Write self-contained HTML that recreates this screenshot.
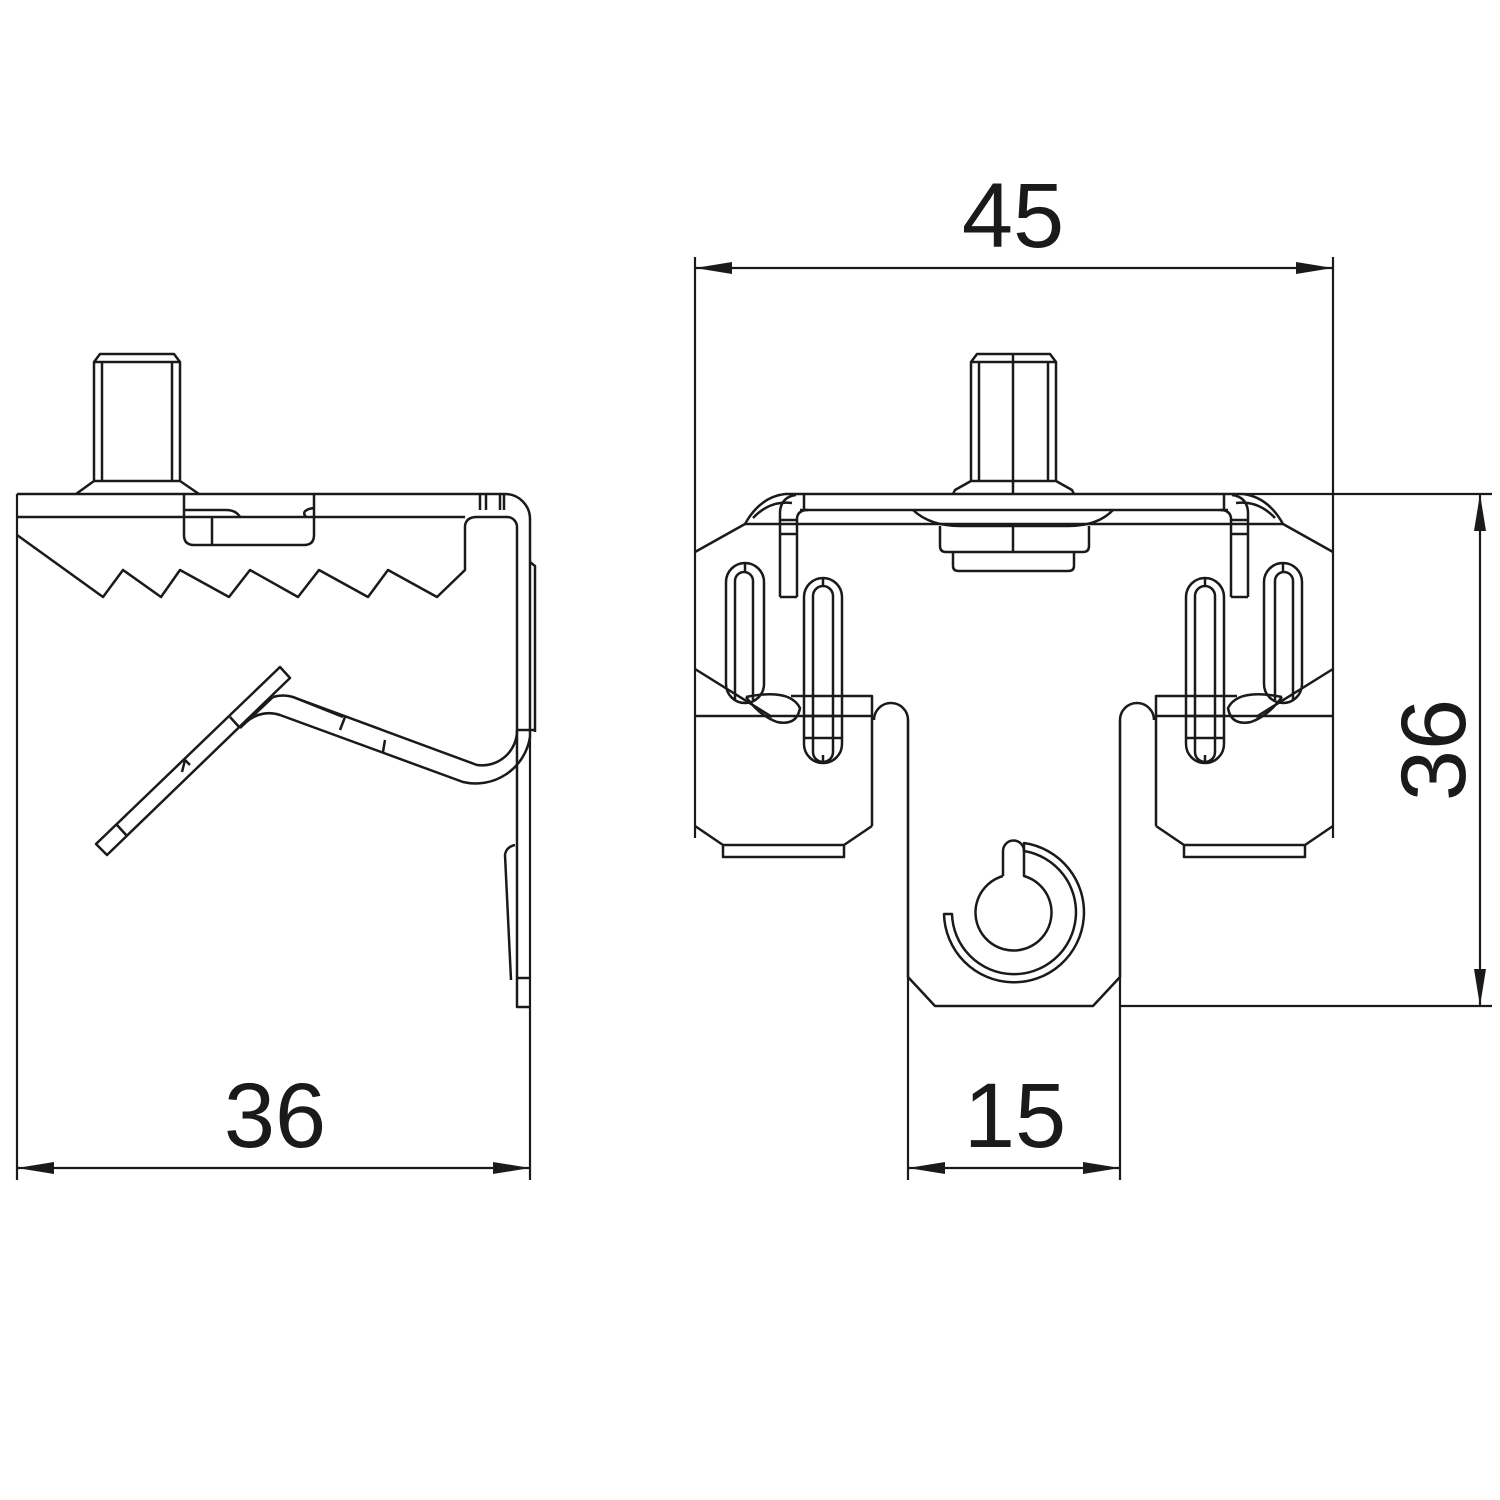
<!DOCTYPE html>
<html><head><meta charset="utf-8"><style>
html,body{margin:0;padding:0;background:#fff}
svg{display:block}
text{font-family:"Liberation Sans",Arial,sans-serif;font-size:92px;fill:#1a1a1a}
</style></head><body>
<svg width="1500" height="1500" viewBox="0 0 1500 1500" xmlns="http://www.w3.org/2000/svg">
<defs>
<g id="half" fill="none" stroke="#1a1a1a" stroke-width="2.5" stroke-linejoin="round">
  <path d="M785,494 L1014,494"/>
  <path d="M800,510 L1014,510"/>
  <path d="M745,524 L1014,524"/>
  <path d="M695,552 L745,524 Q760,497 785,494"/>
  <path d="M753,518 Q770,500 792,503"/>
  <path d="M780,597 L780,512 Q781,497 796,495 M797,597 L797,518 Q798,510 808,510 M780,597 L797,597 M804,494 L804,510 M780,520 L797,520 M780,534 L797,534"/>
  <rect x="726" y="563" width="38" height="140" rx="19"/>
  <path d="M735,700 L735,581 A9,9 0 0 1 753,581 L753,700 M745,563 L745,572"/>
  <rect x="804" y="578" width="38" height="185" rx="19"/>
  <path d="M813,752 L813,596 A10,10 0 0 1 833,596 L833,752 A10,10 0 0 1 813,752 M823,578 L823,586 M823,755 L823,763 M804,716 L842,716 M804,738 L842,738"/>
  <path d="M695,669 L772,717"/>
  <path d="M746,697 Q790,688 800,708 Q797,726 777,722 Q760,716 746,697"/>
  <path d="M695,716 L872,716 M791,696 L872,696 L872,826"/>
  <path d="M695,826 L723,845 L844,845 L872,826 M723,845 L723,857 L844,857 L844,845"/>
  <path d="M874,720 A17,17 0 0 1 908,720 L908,977 L935,1006 L1014,1006"/>
</g>
</defs>
<use href="#half"/>
<use href="#half" transform="translate(2028,0) scale(-1,1)"/>
<g fill="none" stroke="#1a1a1a" stroke-width="2.5" stroke-linejoin="round">
  <!-- right view stud -->
  <path d="M971,481 L971,362 L977,354 L1050,354 L1056,362 L1056,481 M971,362 L1056,362 M979,362 L979,481 M1048,362 L1048,481 M1013,354 L1013,494"/>
  <path d="M971,481 L955,490 L953,494 M1056,481 L1072,490 L1074,494 M971,481 L1056,481"/>
  <path d="M913,510 Q930,526 960,526 L1068,526 Q1098,526 1113,510"/>
  <path d="M940,526 L940,546 Q940,552 946,552 L1083,552 Q1089,552 1089,546 L1089,526 M953,552 L953,566 Q953,571 959,571 L1068,571 Q1074,571 1074,566 L1074,552 M1013,526 L1013,552"/>
  <!-- keyhole & ring -->
  <path d="M1003,876 L1003,851 A10.5,10.5 0 0 1 1024,851 L1024,876 A38,38 0 1 1 1003,876"/>
  <path d="M1024,843 A70,70 0 1 1 944,914 L952,914 A62,62 0 1 0 1024,851 Z"/>

  <!-- left view -->
  <path d="M94,481 L94,362 L100,354 L174,354 L180,362 L180,481 M94,362 L180,362 M102,362 L102,481 M172,362 L172,481 M94,481 L180,481 M94,481 L76,494 M180,481 L199,494"/>
  <path d="M17,494 L505,494 A25,25 0 0 1 530,519 L530,737 A55,55 0 0 1 463,782 L280,715 Q258,708 240,728"/>
  <path d="M17,517 L465,517 M17,535 L103,597 L123,570 L161,597 L180,570 L229,597 L250,570 L298,597 L319,570 L368,597 L388,570 L437,597 L465,570 L465,526 Q466,517 477,517 L507,517 A10,10 0 0 1 517,527 L517,730 A35,35 0 0 1 477,765 L293,697 Q283,694 273,697"/>
  <path d="M184,494 L184,535 Q184,545 194,545 L304,545 Q314,545 314,535 L314,494 M184,510 L226,510 Q236,510 240,517 M212,517 L212,545 M306,517 Q300,510 314,508"/>
  <path d="M480,494 L480,510 M486,494 L486,510 M500,494 L500,510 M504,494 L504,510"/>
  <polygon points="96,844 280,667 290,678 107,855"/>
  <path d="M117,825 L127,836 M230,717 L240,728 M273,697 L240,728 M190,765 L185,760 L182,772"/>
  <path d="M293,697 L343,717 M345,717 L340,730 M385,740 L383,752"/>
  <path d="M530,562 L535,566 L535,732 M517,730 L535,730"/>
  <path d="M517,730 L517,1007 L530,1007 M517,978 L530,978 M515,845 Q506,847 505,855 L511,980"/>
</g>

<!-- dimension lines -->
<g stroke="#1a1a1a" stroke-width="2.2" fill="none">
  <path d="M695,257 L695,838 M1333,257 L1333,838 M695,268 L1333,268"/>
  <path d="M1243,494 L1492,494 M1119,1006 L1492,1006 M1480,494 L1480,1006"/>
  <path d="M908,720 L908,1180 M1120,720 L1120,1180 M908,1168 L1120,1168"/>
  <path d="M17,494 L17,1180 M530,737 L530,1180 M17,1168 L530,1168"/>
</g>
<g fill="#1a1a1a">
  <polygon points="695,268 732,262 732,274"/>
  <polygon points="1333,268 1296,262 1296,274"/>
  <polygon points="1480,494 1474,531 1486,531"/>
  <polygon points="1480,1006 1474,969 1486,969"/>
  <polygon points="908,1168 945,1162 945,1174"/>
  <polygon points="1120,1168 1083,1162 1083,1174"/>
  <polygon points="17,1168 54,1162 54,1174"/>
  <polygon points="530,1168 493,1162 493,1174"/>
</g>
<text x="1013" y="247" text-anchor="middle">45</text>
<text x="1015" y="1147" text-anchor="middle">15</text>
<text x="275" y="1147" text-anchor="middle">36</text>
<text x="0" y="0" text-anchor="middle" transform="translate(1465,750) rotate(-90)">36</text>
</svg>
</body></html>
